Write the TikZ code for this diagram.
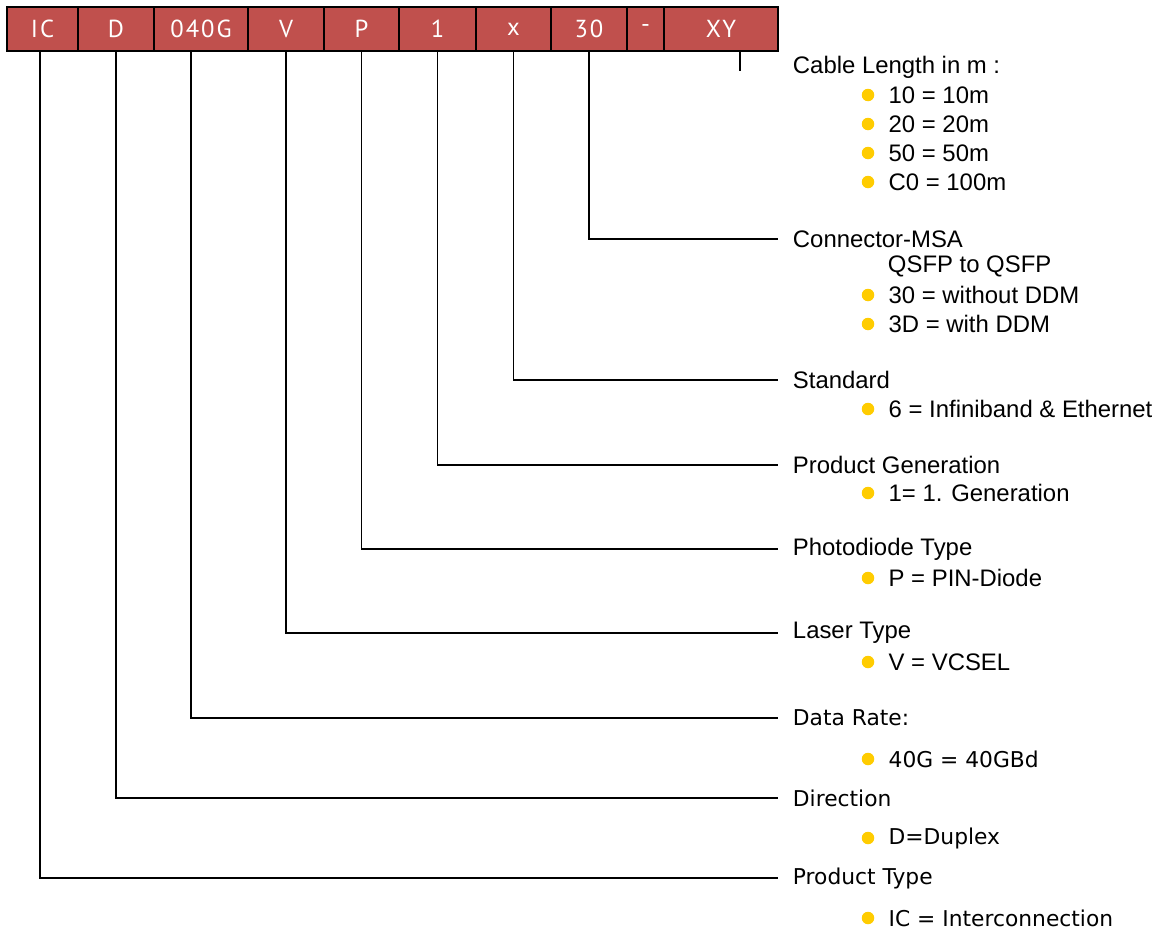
\documentclass[tikz,border=0pt]{standalone}
\usepackage{fontspec}
\setmainfont{Liberation Sans}
\newfontfamily\tahomafont{DejaVu Sans}
\newfontfamily\codefont[LetterSpace=8]{PT Sans}
\usetikzlibrary{positioning}
\definecolor{codered}{HTML}{C0504D}
\definecolor{dotyellow}{HTML}{FFCC00}

\begin{document}
\begin{tikzpicture}[x=0.02cm, y=-0.02cm, line width=1.1pt,
  codebox/.style={draw, fill=codered, text=white, minimum height=0.88cm, inner sep=0pt, font=\codefont\fontsize{14}{16}\selectfont},
  heading/.style={anchor=west, inner xsep=0.28cm, inner ysep=0pt, font=\fontsize{13.6}{16}\selectfont},
  theading/.style={heading, font=\tahomafont\fontsize{12.4}{15}\selectfont},
  entry/.style={inner sep=0pt, font=\fontsize{13.6}{16}\selectfont},
  tentry/.style={entry, font=\tahomafont\fontsize{12.4}{15}\selectfont},
  ydot/.style={circle, fill=dotyellow, inner sep=0pt, minimum size=0.25cm}]
\useasboundingbox (0,0) rectangle (1157,930);
% code boxes
\node[codebox, minimum width=1.42cm] (ic) at (42.5,29) {IC};
\node[codebox, minimum width=1.52cm] (dir) at (116,29) {D};
\node[codebox, minimum width=1.88cm] (rate) at (201,29) {040G};
\node[codebox, minimum width=1.52cm] (laser) at (286,29) {V};
\node[codebox, minimum width=1.50cm] (pd) at (361.5,29) {P};
\node[codebox, minimum width=1.54cm] (gen) at (437.5,29) {1};
\node[codebox, minimum width=1.50cm] (std) at (513.5,29) {x};
\node[codebox, minimum width=1.52cm] (con) at (589,29) {30};
\node[codebox, minimum width=0.74cm] (dash) at (645.5,29) {-};
\node[codebox, minimum width=2.28cm] (len) at (721,29) {XY};
\coordinate (lenstub) at (740,71);
% headings
\node[heading] (hlen) at (778,67) {Cable Length in m :};
\node[heading] (hcon) at (778,239) {Connector-MSA};
\node[heading] (hstd) at (778,380) {Standard};
\node[heading] (hgen) at (778,465) {Product Generation};
\node[heading] (hpd) at (778,549) {Photodiode Type};
\node[heading] (hlaser) at (778,633) {Laser Type};
\node[theading] (hrate) at (778,718) {Data Rate:};
\node[theading] (hdir) at (778,798) {Direction};
\node[theading] (hic) at (778,878) {Product Type};
% entries
\node[ydot] (len1) at (868,95) {};
\node[entry, right=0.25cm of len1] {10 = 10m};
\node[ydot] (len2) at (868,124) {};
\node[entry, right=0.25cm of len2] {20 = 20m};
\node[ydot] (len3) at (868,153) {};
\node[entry, right=0.25cm of len3] {50 = 50m};
\node[ydot] (len4) at (868,182) {};
\node[entry, right=0.25cm of len4] {C0 = 100m};
\node[entry, anchor=west] (qsfp) at (887,266) {QSFP to QSFP};
\node[ydot] (con1) at (868,295) {};
\node[entry, right=0.25cm of con1] {30 = without DDM};
\node[ydot] (con2) at (868,324) {};
\node[entry, right=0.25cm of con2] {3D = with DDM};
\node[ydot] (std1) at (868,409) {};
\node[entry, right=0.25cm of std1] {6 = Infiniband \& Ethernet};
\node[ydot] (gen1) at (868,493) {};
\node[entry, right=0.25cm of gen1] {1= 1. Generation};
\node[ydot] (pd1) at (868,578) {};
\node[entry, right=0.25cm of pd1] {P = PIN-Diode};
\node[ydot] (laser1) at (868,662) {};
\node[entry, right=0.25cm of laser1] {V = VCSEL};
\node[ydot] (rate1) at (868,759) {};
\node[tentry, right=0.25cm of rate1] {40G = 40GBd};
\node[ydot] (dir1) at (868,838) {};
\node[tentry, right=0.25cm of dir1] {D=Duplex};
\node[ydot] (ic1) at (868,918) {};
\node[tentry, right=0.25cm of ic1] {IC = Interconnection};
% connectors
\draw (len.south -| lenstub) -- (lenstub);
\draw (con.south) |- (hcon.west);
\draw (std.south) |- (hstd.west);
\draw (gen.south) |- (hgen.west);
\draw (pd.south) |- (hpd.west);
\draw (laser.south) |- (hlaser.west);
\draw ([xshift=-0.2cm]rate.south) |- (hrate.west);
\draw (dir.south) |- (hdir.west);
\draw ([xshift=-0.05cm]ic.south) |- (hic.west);
\end{tikzpicture}
\end{document}
